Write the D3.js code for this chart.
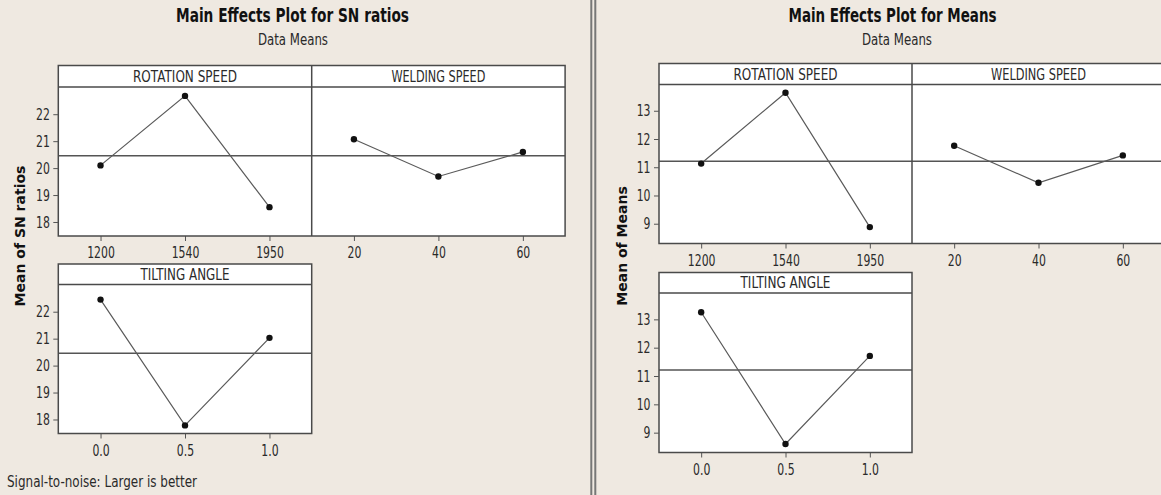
<!DOCTYPE html>
<html>
<head>
<meta charset="utf-8">
<script src="https://cdn.jsdelivr.net/npm/d3@7"></script>
<style>
  html, body { margin: 0; padding: 0; background: #efe9e1; overflow: hidden; }
  svg { display: block; }
</style>
</head>
<body>
<svg id="chart" width="1161" height="495"></svg>
<script>
// Factor levels
const rotationLevels = ["1200", "1540", "1950"];
const weldingLevels = ["20", "40", "60"];
const tiltingLevels = ["0.0", "0.5", "1.0"];

// Mean S/N ratio at each level (larger is better)
const snRotation = [20.10, 22.68, 18.55];
const snWelding = [21.07, 19.69, 20.60];
const snTilting = [22.45, 17.78, 21.03];
const snGrandMean = 20.46;
const snTicks = [18, 19, 20, 21, 22];

// Mean response at each level
const meanRotation = [11.13, 13.64, 8.88];
const meanWelding = [11.76, 10.45, 11.42];
const meanTilting = [13.25, 8.60, 11.71];
const meansGrandMean = 11.21;
const meansTicks = [9, 10, 11, 12, 13];

const svg = d3.select("#chart");
const FONT = "'DejaVu Sans', Verdana, sans-serif";
const TICK_SIZE = 16;
const TEXT_SQUEEZE = 0.68;   // horizontal compression of tick labels
const INK = "#2a2a2a";
const FRAME = "#4a4a4a";

const plots = [
  {
    title: "Main Effects Plot for SN ratios", titleX: 292.5, titleW: 233,
    subtitle: "Data Means", subX: 293,
    yLabel: "Mean of SN ratios", yLabelX: 25, yLabelY: 236,
    yDomain: [17.48, 23.01], yTicks: snTicks, grand: snGrandMean,
    x0: 58.3, facetW: 253.4,
    rows: [
      { stripTop: 65.5, top: 87, bottom: 236, facets: [
        { name: "ROTATION SPEED", nameW: 104, levels: rotationLevels, values: snRotation },
        { name: "WELDING SPEED", nameW: 94, levels: weldingLevels, values: snWelding }
      ]},
      { stripTop: 264, top: 284.5, bottom: 433.5, facets: [
        { name: "TILTING ANGLE", nameW: 89, levels: tiltingLevels, values: snTilting }
      ]}
    ],
    footnote: "Signal-to-noise: Larger is better"
  },
  {
    title: "Main Effects Plot for Means", titleX: 892.5, titleW: 208,
    subtitle: "Data Means", subX: 897,
    yLabel: "Mean of Means", yLabelX: 627, yLabelY: 246,
    yDomain: [8.30, 13.93], yTicks: meansTicks, grand: meansGrandMean,
    x0: 659, facetW: 253,
    rows: [
      { stripTop: 63.5, top: 84.5, bottom: 243.5, facets: [
        { name: "ROTATION SPEED", nameW: 104, levels: rotationLevels, values: meanRotation },
        { name: "WELDING SPEED", nameW: 95, levels: weldingLevels, values: meanWelding }
      ]},
      { stripTop: 272.5, top: 293, bottom: 452.5, facets: [
        { name: "TILTING ANGLE", nameW: 90, levels: tiltingLevels, values: meanTilting }
      ]}
    ]
  }
];

function fitText(sel, width) {
  sel.attr("textLength", width).attr("lengthAdjust", "spacingAndGlyphs");
}

plots.forEach(p => {
  const g = svg.append("g");

  g.append("text")
    .attr("x", p.titleX).attr("y", 22)
    .attr("text-anchor", "middle")
    .attr("font-family", FONT).attr("font-weight", "bold").attr("font-size", 20)
    .attr("fill", "#111")
    .text(p.title)
    .call(fitText, p.titleW);

  g.append("text")
    .attr("x", p.subX).attr("y", 45)
    .attr("text-anchor", "middle")
    .attr("font-family", FONT).attr("font-size", 15)
    .attr("fill", INK)
    .text(p.subtitle)
    .call(fitText, 70);

  g.append("text")
    .attr("transform", `translate(${p.yLabelX},${p.yLabelY}) rotate(-90)`)
    .attr("text-anchor", "middle")
    .attr("font-family", FONT).attr("font-weight", "bold").attr("font-size", 14)
    .attr("fill", "#111")
    .text(p.yLabel);

  p.rows.forEach(row => {
    const rowW = p.facetW * row.facets.length;
    const y = d3.scaleLinear().domain(p.yDomain).range([row.bottom, row.top]);

    // panel background
    g.append("rect")
      .attr("x", p.x0).attr("y", row.stripTop)
      .attr("width", rowW).attr("height", row.bottom - row.stripTop)
      .attr("fill", "#fff");

    row.facets.forEach((f, i) => {
      const left = p.x0 + i * p.facetW;
      const x = d3.scalePoint().domain(f.levels).range([left, left + p.facetW]).padding(0.5);
      const fg = g.append("g");

      // strip label
      fg.append("text")
        .attr("x", left + p.facetW / 2)
        .attr("y", (row.stripTop + row.top) / 2 + 5.6)
        .attr("text-anchor", "middle")
        .attr("font-family", FONT).attr("font-size", 15.5)
        .attr("fill", INK)
        .text(f.name)
        .call(fitText, f.nameW);

      // grand mean reference line
      fg.append("line")
        .attr("x1", left).attr("x2", left + p.facetW)
        .attr("y1", y(p.grand)).attr("y2", y(p.grand))
        .attr("stroke", "#555").attr("stroke-width", 1.4);

      const pts = f.levels.map((lv, k) => ({ lv, v: f.values[k] }));

      fg.append("path")
        .datum(pts)
        .attr("fill", "none")
        .attr("stroke", "#5a5a5a").attr("stroke-width", 1.2)
        .attr("d", d3.line().x(d => x(d.lv)).y(d => y(d.v)));

      fg.selectAll("circle").data(pts).join("circle")
        .attr("cx", d => x(d.lv)).attr("cy", d => y(d.v))
        .attr("r", 3.2).attr("fill", "#111");

      // x axis
      const xa = fg.append("g")
        .attr("transform", `translate(0,${row.bottom})`)
        .call(d3.axisBottom(x).tickSize(5).tickPadding(6));
      xa.select(".domain").remove();
      xa.selectAll("line").attr("stroke", "#555");
      xa.selectAll("text")
        .attr("font-family", FONT).attr("font-size", TICK_SIZE).attr("fill", INK)
        .attr("transform", `scale(${TEXT_SQUEEZE},1)`);

      // divider between facets
      if (i > 0) {
        g.append("line")
          .attr("x1", left).attr("x2", left)
          .attr("y1", row.stripTop).attr("y2", row.bottom)
          .attr("stroke", FRAME).attr("stroke-width", 1.5);
      }
    });

    // strip separator and frame
    g.append("line")
      .attr("x1", p.x0).attr("x2", p.x0 + rowW)
      .attr("y1", row.top).attr("y2", row.top)
      .attr("stroke", FRAME).attr("stroke-width", 1.5);
    g.append("rect")
      .attr("x", p.x0).attr("y", row.stripTop)
      .attr("width", rowW).attr("height", row.bottom - row.stripTop)
      .attr("fill", "none").attr("stroke", FRAME).attr("stroke-width", 1.5);

    // y axis
    const ya = g.append("g")
      .attr("transform", `translate(${p.x0},0)`)
      .call(d3.axisLeft(y).tickValues(p.yTicks).tickFormat(d3.format("d")).tickSize(5).tickPadding(3.5));
    ya.select(".domain").remove();
    ya.selectAll("line").attr("stroke", "#555");
    ya.selectAll("text")
      .attr("font-family", FONT).attr("font-size", TICK_SIZE).attr("fill", INK)
      .attr("x", -8.5 / TEXT_SQUEEZE)
      .attr("transform", `scale(${TEXT_SQUEEZE},1)`);
  });

  if (p.footnote) {
    g.append("text")
      .attr("x", 7).attr("y", 487)
      .attr("font-family", FONT).attr("font-size", 15)
      .attr("fill", INK)
      .text(p.footnote)
      .call(fitText, 190);
  }
});

// double rule separating the two plots
[591.3, 595.3].forEach(xv => {
  svg.append("line")
    .attr("x1", xv).attr("x2", xv).attr("y1", 0).attr("y2", 495)
    .attr("stroke", "#777").attr("stroke-width", 2);
});
</script>
</body>
</html>
